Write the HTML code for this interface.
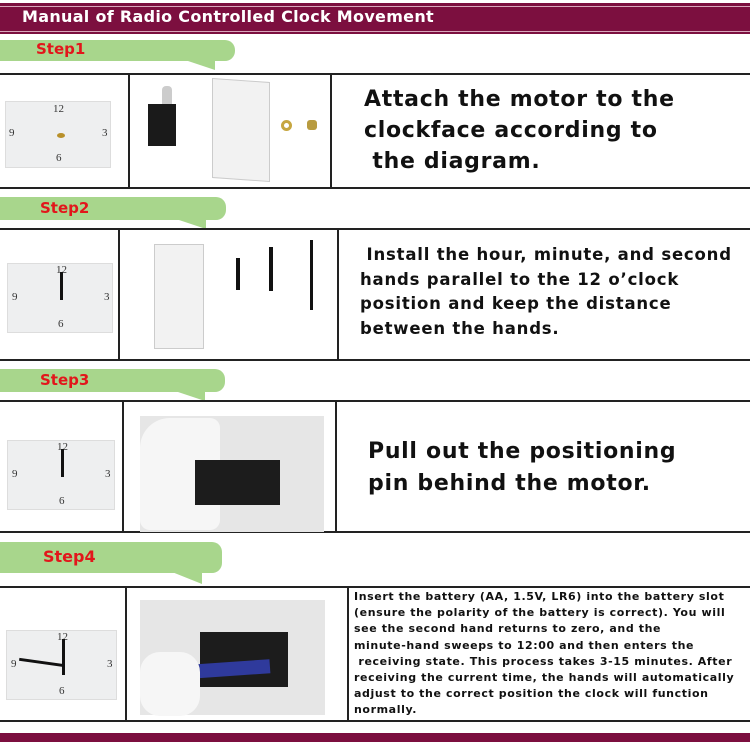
<!DOCTYPE html>
<html><head><meta charset="utf-8"><style>
*{margin:0;padding:0;box-sizing:border-box}
body{width:750px;height:742px;background:#fff;position:relative;overflow:hidden;font-family:"DejaVu Sans","Liberation Sans",sans-serif}
.a{position:absolute}
.hdr{left:0;top:0;width:750px;height:34px;background:#7c0f3f;border-top:3px solid #fff;}
.hdr:before{content:"";position:absolute;left:0;right:0;top:3px;height:1px;background:#d8a7bb}
.hdr:after{content:"";position:absolute;left:0;right:0;bottom:2px;height:1px;background:#d8a7bb}
.title{left:22px;top:7px;color:#fff;font-weight:bold;font-size:16px;letter-spacing:0.3px;font-family:"DejaVu Sans",sans-serif}
.ban{background:#a8d68c;border-radius:0 10px 10px 0;}
.tail{width:0;height:0;border-left:30px solid transparent;border-top:10px solid #a8d68c}
.st{color:#e2161b;font-weight:bold;font-size:15px}
.hl{height:2px;background:#222}
.vl{width:2px;background:#222}
.tx{font-weight:bold;color:#111;white-space:nowrap}
.clk{background:#eeeff0;border:1px solid #ddd}
.n{position:absolute;font-family:"Liberation Serif",serif;font-size:11px;color:#333}
.photo{background:#e6e6e6}
</style></head><body>
<div class="a hdr"></div>
<div class="a title">Manual of Radio Controlled Clock Movement</div>

<!-- Step1 -->
<div class="a ban" style="left:0;top:40px;width:235px;height:21px"></div>
<div class="a tail" style="left:185px;top:60px"></div>
<div class="a st" style="left:36px;top:40px">Step1</div>
<div class="a hl" style="left:0;top:73px;width:750px"></div>
<div class="a hl" style="left:0;top:187px;width:750px"></div>
<div class="a vl" style="left:128px;top:73px;height:115px"></div>
<div class="a vl" style="left:330px;top:73px;height:115px"></div>
<div class="a clk" style="left:5px;top:101px;width:106px;height:67px">
<span class="n" style="left:47px;top:1px">12</span><span class="n" style="left:3px;top:25px">9</span><span class="n" style="left:96px;top:25px">3</span><span class="n" style="left:50px;top:50px">6</span>
<div class="a" style="left:51px;top:31px;width:8px;height:5px;background:#b8902a;border-radius:50%"></div></div>
<div class="a" style="left:148px;top:104px;width:28px;height:42px;background:#1a1a1a"></div>
<div class="a" style="left:162px;top:86px;width:10px;height:18px;background:#ccc;border-radius:4px 4px 0 0"></div>
<div class="a" style="left:212px;top:80px;width:58px;height:100px;background:#f2f2f2;border:1px solid #ccc;transform:skewY(4deg)"></div>
<div class="a" style="left:281px;top:120px;width:11px;height:11px;border:3px solid #c6a640;border-radius:50%"></div>
<div class="a" style="left:307px;top:120px;width:10px;height:10px;background:#b89b40;border-radius:3px"></div>
<div class="a tx" style="left:364px;top:84px;font-size:22px;letter-spacing:0.7px;line-height:31px">Attach the motor to the<br>clockface according to<br>&nbsp;the diagram.</div>

<!-- Step2 -->
<div class="a ban" style="left:0;top:197px;width:226px;height:23px"></div>
<div class="a tail" style="left:176px;top:219px"></div>
<div class="a st" style="left:40px;top:199px">Step2</div>
<div class="a hl" style="left:0;top:228px;width:750px"></div>
<div class="a hl" style="left:0;top:359px;width:750px"></div>
<div class="a vl" style="left:118px;top:228px;height:132px"></div>
<div class="a vl" style="left:337px;top:228px;height:132px"></div>
<div class="a clk" style="left:7px;top:263px;width:106px;height:70px">
<span class="n" style="left:48px;top:0px">12</span><span class="n" style="left:4px;top:27px">9</span><span class="n" style="left:96px;top:27px">3</span><span class="n" style="left:50px;top:54px">6</span>
<div class="a" style="left:52px;top:8px;width:3px;height:28px;background:#111"></div></div>
<div class="a" style="left:154px;top:244px;width:50px;height:105px;background:#f2f2f2;border:1px solid #ccc"></div>
<div class="a" style="left:236px;top:258px;width:4px;height:32px;background:#111"></div>
<div class="a" style="left:269px;top:247px;width:4px;height:44px;background:#111"></div>
<div class="a" style="left:310px;top:240px;width:3px;height:70px;background:#111"></div>
<div class="a tx" style="left:360px;top:243px;font-size:16.5px;letter-spacing:0.8px;line-height:24.5px">&nbsp;Install the hour, minute, and second<br>hands parallel to the 12 o’clock<br>position and keep the distance<br>between the hands.</div>

<!-- Step3 -->
<div class="a ban" style="left:0;top:369px;width:225px;height:23px"></div>
<div class="a tail" style="left:175px;top:391px"></div>
<div class="a st" style="left:40px;top:371px">Step3</div>
<div class="a hl" style="left:0;top:400px;width:750px"></div>
<div class="a hl" style="left:0;top:531px;width:750px"></div>
<div class="a vl" style="left:122px;top:400px;height:132px"></div>
<div class="a vl" style="left:335px;top:400px;height:132px"></div>
<div class="a clk" style="left:7px;top:440px;width:108px;height:70px">
<span class="n" style="left:49px;top:0px">12</span><span class="n" style="left:4px;top:27px">9</span><span class="n" style="left:97px;top:27px">3</span><span class="n" style="left:51px;top:54px">6</span>
<div class="a" style="left:53px;top:8px;width:3px;height:28px;background:#111"></div></div>
<div class="a photo" style="left:140px;top:416px;width:184px;height:116px"></div>
<div class="a" style="left:140px;top:418px;width:80px;height:112px;background:#f6f6f6;border-radius:30px 10px 10px 10px"></div>
<div class="a" style="left:195px;top:460px;width:85px;height:45px;background:#1c1c1c"></div>
<div class="a tx" style="left:368px;top:436px;font-size:22px;letter-spacing:0.7px;line-height:32px">Pull out the positioning<br>pin behind the motor.</div>

<!-- Step4 -->
<div class="a ban" style="left:0;top:542px;width:222px;height:31px"></div>
<div class="a tail" style="left:172px;top:572px;border-top-width:12px"></div>
<div class="a st" style="left:43px;top:547px;font-size:16px">Step4</div>
<div class="a hl" style="left:0;top:586px;width:750px"></div>
<div class="a hl" style="left:0;top:720px;width:750px"></div>
<div class="a vl" style="left:125px;top:586px;height:135px"></div>
<div class="a vl" style="left:347px;top:586px;height:135px"></div>
<div class="a clk" style="left:6px;top:630px;width:111px;height:70px">
<span class="n" style="left:50px;top:0px">12</span><span class="n" style="left:4px;top:27px">9</span><span class="n" style="left:100px;top:27px">3</span><span class="n" style="left:52px;top:54px">6</span>
<div class="a" style="left:55px;top:8px;width:3px;height:36px;background:#111"></div>
<div class="a" style="left:12px;top:30px;width:46px;height:3px;background:#111;transform:rotate(8deg)"></div></div>
<div class="a photo" style="left:140px;top:600px;width:185px;height:115px"></div>
<div class="a" style="left:200px;top:632px;width:88px;height:55px;background:#1c1c1c"></div>
<div class="a" style="left:190px;top:662px;width:80px;height:14px;background:#2f3a9c;transform:rotate(-4deg)"></div>
<div class="a" style="left:140px;top:652px;width:60px;height:64px;background:#f6f6f6;border-radius:20px"></div>
<div class="a tx" style="left:354px;top:589px;font-size:11px;letter-spacing:0.6px;line-height:16.2px;font-weight:bold">Insert the battery (AA, 1.5V, LR6) into the battery slot<br>(ensure the polarity of the battery is correct). You will<br>see the second hand returns to zero, and the<br>minute-hand sweeps to 12:00 and then enters the<br>&nbsp;receiving state. This process takes 3-15 minutes. After<br>receiving the current time, the hands will automatically<br>adjust to the correct position the clock will function<br>normally.</div>

<div class="a" style="left:0;top:733px;width:750px;height:9px;background:#7c0f3f"></div>
</body></html>
